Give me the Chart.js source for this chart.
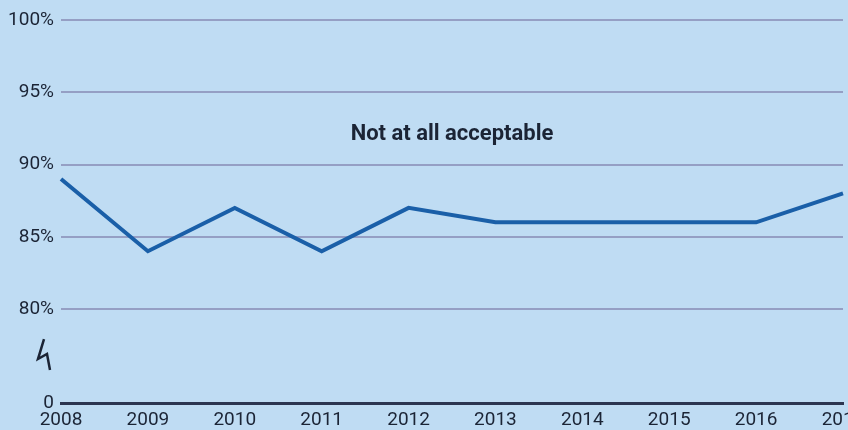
<!DOCTYPE html>
<html>
<head>
<meta charset="utf-8">
<script src="https://cdn.jsdelivr.net/npm/chart.js@4"></script>
<style>
  html, body { margin: 0; padding: 0; background: #bfdcf3; }
  #wrap { position: relative; width: 848px; height: 430px; }
</style>
</head>
<body>
<div id="wrap"><canvas id="myChart" width="848" height="430"></canvas></div>
<script>
const years = ['2008', '2009', '2010', '2011', '2012', '2013', '2014', '2015', '2016', '2017'];
const notAcceptable = [89, 84, 87, 84, 87, 86, 86, 86, 86, 88];
// axis is broken between 0 and 80%, so "0" sits at a fake value
const breakBase = 73.5;
const yTicks = [breakBase, 80, 85, 90, 95, 100];

const font = { family: 'Roboto, "Liberation Sans", sans-serif', size: 19 };

// title text + zigzag break mark
const extras = {
  id: 'extras',
  afterDraw(chart) {
    const ctx = chart.ctx;
    ctx.save();
    ctx.fillStyle = '#1b2435';
    ctx.font = 'bold 22px Roboto, "Liberation Sans", sans-serif';
    ctx.textAlign = 'center';
    ctx.textBaseline = 'middle';
    ctx.fillText('Not at all acceptable', 452, 134);

    const y = chart.scales.y;
    const mid = (y.getPixelForValue(80) + y.getPixelForValue(breakBase)) / 2;
    ctx.strokeStyle = '#1b2435';
    ctx.lineWidth = 2.5;
    ctx.lineJoin = 'miter';
    ctx.beginPath();
    ctx.moveTo(44, mid - 17);
    ctx.lineTo(38, mid + 3);
    ctx.lineTo(47, mid - 2);
    ctx.lineTo(50, mid + 14);
    ctx.stroke();
    ctx.restore();
  }
};

new Chart(document.getElementById('myChart'), {
  type: 'line',
  data: {
    labels: years,
    datasets: [{
      label: 'Not at all acceptable',
      data: notAcceptable,
      borderColor: '#1a5fa8',
      borderWidth: 4,
      pointRadius: 0,
      tension: 0,
      fill: false
    }]
  },
  options: {
    responsive: false,
    animation: false,
    layout: { padding: { top: 20, right: 5, left: 0, bottom: 0 } },
    plugins: {
      legend: { display: false },
      tooltip: { enabled: false }
    },
    scales: {
      x: {
        grid: { display: false },
        border: { display: true, color: '#2b3550', width: 3 },
        ticks: { color: '#1b2435', font: font, padding: -2, maxRotation: 0, autoSkip: false },
        afterFit(s) { s.paddingLeft = 0; s.paddingRight = 0; s.height = 27; }
      },
      y: {
        min: breakBase,
        max: 100,
        afterBuildTicks(s) { s.ticks = yTicks.map(v => ({ value: v })); },
        afterFit(s) { s.width = 61; s.paddingTop = 0; s.paddingBottom = 0; },
        border: { display: false },
        grid: {
          color: c => c.tick && c.tick.value === breakBase ? 'rgba(0,0,0,0)' : '#959fc4',
          lineWidth: 2,
          drawTicks: false
        },
        ticks: {
          color: '#1b2435',
          font: font,
          padding: 7,
          callback: v => v === breakBase ? '0' : v + '%'
        }
      }
    }
  },
  plugins: [extras]
});
</script>
</body>
</html>
